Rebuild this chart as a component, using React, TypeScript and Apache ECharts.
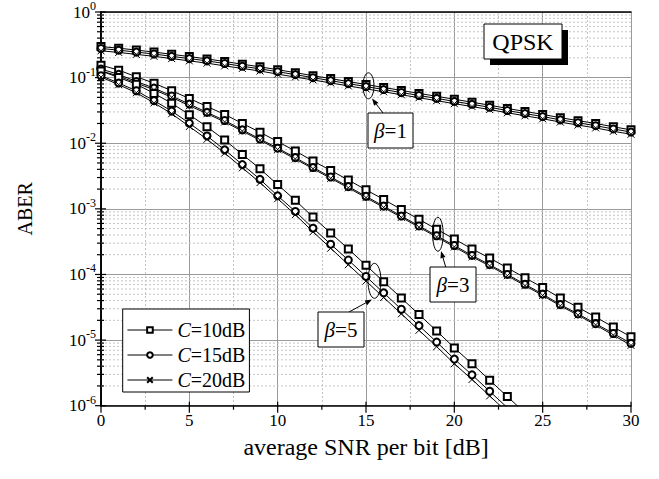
import React, { useEffect, useRef } from 'react';
import * as echarts from 'echarts';

const FONT = '"Liberation Serif", "Times New Roman", serif';

const snr = [0, 1, 2, 3, 4, 5, 6, 7, 8, 9, 10, 11, 12, 13, 14, 15, 16, 17, 18, 19, 20, 21, 22, 23, 24, 25, 26, 27, 28, 29, 30];

const legendNames = ['C=10dB', 'C=15dB', 'C=20dB'];

// beta = 1
const b1c10 = [0.297, 0.281, 0.263, 0.245, 0.227, 0.209, 0.193, 0.176, 0.160, 0.146, 0.132, 0.119, 0.107, 0.0966, 0.0871, 0.0785, 0.0708, 0.0638, 0.0575, 0.0519, 0.0468, 0.0422, 0.0380, 0.0339, 0.0305, 0.0275, 0.0245, 0.0221, 0.0200, 0.0178, 0.0160];
const b1c15 = [0.278, 0.262, 0.245, 0.229, 0.211, 0.195, 0.180, 0.164, 0.149, 0.136, 0.123, 0.111, 0.0998, 0.0899, 0.0810, 0.0730, 0.0658, 0.0593, 0.0534, 0.0482, 0.0434, 0.0392, 0.0353, 0.0315, 0.0283, 0.0255, 0.0227, 0.0205, 0.0185, 0.0165, 0.0148];
const b1c20 = [0.256, 0.242, 0.226, 0.211, 0.195, 0.180, 0.166, 0.151, 0.138, 0.126, 0.113, 0.102, 0.0921, 0.0830, 0.0748, 0.0674, 0.0608, 0.0548, 0.0494, 0.0445, 0.0401, 0.0362, 0.0326, 0.0291, 0.0262, 0.0236, 0.0210, 0.0189, 0.0171, 0.0152, 0.0137];

// beta = 3
const b3c10 = [0.155, 0.130, 0.103, 0.0824, 0.0631, 0.0481, 0.0363, 0.0275, 0.0200, 0.0147, 0.0106, 0.00759, 0.00537, 0.00385, 0.00275, 0.00195, 0.00139, 0.000977, 0.000692, 0.000490, 0.000347, 0.000245, 0.000178, 0.000126, 8.91e-5, 6.31e-5, 4.37e-5, 3.16e-5, 2.24e-5, 1.58e-5, 1.12e-5];
const b3c15 = [0.135, 0.112, 0.0875, 0.0693, 0.0525, 0.0395, 0.0295, 0.0222, 0.0160, 0.0116, 0.00841, 0.00603, 0.00426, 0.00306, 0.00218, 0.00155, 0.00110, 0.000776, 0.000549, 0.000389, 0.000276, 0.000195, 0.000141, 0.000100, 7.08e-5, 5.01e-5, 3.47e-5, 2.51e-5, 1.78e-5, 1.26e-5, 8.9e-6];
const b3c20 = [0.126, 0.106, 0.0826, 0.0654, 0.0501, 0.0373, 0.0282, 0.0211, 0.0153, 0.0111, 0.00804, 0.00576, 0.00408, 0.00292, 0.00209, 0.00148, 0.00105, 0.000742, 0.000525, 0.000372, 0.000263, 0.000186, 0.000135, 9.56e-5, 6.76e-5, 4.79e-5, 3.32e-5, 2.40e-5, 1.70e-5, 1.19e-5, 8.3e-6];

// beta = 5
const b5c10 = [0.126, 0.1005, 0.0794, 0.0575, 0.0407, 0.0272, 0.0178, 0.0112, 0.00676, 0.00407, 0.00234, 0.00135, 0.000750, 0.000427, 0.000245, 0.000138, 7.76e-5, 4.37e-5, 2.45e-5, 1.38e-5, 7.59e-6, 4.37e-6, 2.45e-6, 1.38e-6, 7.76e-7];
const b5c15 = [0.107, 0.0826, 0.0630, 0.0446, 0.0309, 0.0202, 0.0129, 0.00793, 0.00473, 0.00282, 0.00158, 0.000913, 0.000507, 0.000289, 0.000166, 9.33e-5, 5.25e-5, 2.95e-5, 1.66e-5, 9.33e-6, 5.13e-6, 2.95e-6, 1.66e-6, 9.33e-7, 5.25e-7];
const b5c20 = [0.102, 0.0780, 0.0588, 0.0412, 0.0282, 0.0180, 0.0115, 0.00707, 0.00422, 0.00251, 0.00143, 0.000814, 0.000447, 0.000251, 0.000141, 7.94e-5, 4.46e-5, 2.51e-5, 1.41e-5, 7.94e-6, 4.36e-6, 2.51e-6, 1.41e-6, 7.94e-7, 4.46e-7];

// axis tick positions
const xMajorTicks = [0, 5, 10, 15, 20, 25, 30];
const xMinorTicks = [2.5, 7.5, 12.5, 17.5, 22.5, 27.5];
const yDecades = [-6, -5, -4, -3, -2, -1, 0];
const yMantissas = [2, 3, 4, 5, 6, 7, 8, 9];

const CROSS = 'path://M0,0L10,10M10,0L0,10';

export default function App() {
  const ref = useRef<HTMLDivElement>(null);

  useEffect(() => {
    if (!ref.current) return;
    const chart = echarts.init(ref.current, null, { renderer: 'svg' });

    const pair = (ys: number[]) => ys.map((y, i) => [snr[i], y]);
    const mk = (name: string, ys: number[], symbol: string, size: number) => ({
      type: 'line',
      name,
      data: pair(ys),
      symbol,
      symbolSize: size,
      showAllSymbol: true,
      clip: true,
      silent: true,
      z: 3,
      lineStyle: { color: '#000', width: 1 },
      itemStyle: { color: '#000', borderColor: '#000', borderWidth: 1 },
    });

    const yTickData: number[][] = [];
    yDecades.forEach((e) => {
      yTickData.push([0, Math.pow(10, e), 1]);
      if (e < 0) yMantissas.forEach((m) => yTickData.push([0, m * Math.pow(10, e), 0]));
    });
    const xTickData: number[][] = [];
    xMajorTicks.forEach((x) => xTickData.push([x, 1e-6, 1]));
    xMinorTicks.forEach((x) => xTickData.push([x, 1e-6, 0]));

    const labelRich = {
      b: { fontFamily: FONT, fontSize: 17, color: '#000' },
      s: { fontFamily: FONT, fontSize: 12, color: '#000', padding: [0, 0, 12, 0] },
    };

    const option: any = {
      animation: false,
      backgroundColor: '#fff',
      grid: { left: 101, right: 28, top: 11, bottom: 73.3, containLabel: false },
      legend: {
        data: legendNames,
        orient: 'vertical',
        left: 122.7,
        top: 309,
        padding: [11, 4, 2, 4],
        itemWidth: 45,
        itemHeight: 7,
        itemGap: 5,
        backgroundColor: '#fff',
        borderColor: '#000',
        borderWidth: 1,
        selectedMode: false,
        lineStyle: { color: '#555', width: 1.5 },
        formatter: (n: string) => `{i|C}{n|${n.slice(1)}}`,
        textStyle: {
          rich: {
            i: { fontFamily: FONT, fontSize: 20, fontStyle: 'italic', color: '#000', lineHeight: 20 },
            n: { fontFamily: FONT, fontSize: 20, color: '#000', lineHeight: 20 },
          },
        },
      },
      xAxis: [
        {
          type: 'value',
          min: 0,
          max: 30,
          interval: 5,
          position: 'bottom',
          name: 'average SNR per bit [dB]',
          nameLocation: 'middle',
          nameGap: 29,
          nameTextStyle: { fontFamily: FONT, fontSize: 24, color: '#000' },
          axisLine: { show: true, lineStyle: { color: '#000', width: 1.6 } },
          axisTick: { show: false },
          minorTick: { show: false, splitNumber: 2 },
          axisLabel: { fontFamily: FONT, fontSize: 17, color: '#000', margin: 6 },
          splitLine: { show: true, lineStyle: { color: '#9a9a9a', width: 1 } },
          minorSplitLine: { show: true, lineStyle: { color: '#c4c4c4', width: 1, type: [2, 2] } },
        },
        {
          type: 'value',
          min: 0,
          max: 30,
          interval: 5,
          position: 'top',
          axisLine: { show: true, lineStyle: { color: '#000', width: 1.6 } },
          axisTick: { show: false },
          axisLabel: { show: false },
          splitLine: { show: false },
        },
      ],
      yAxis: [
        {
          type: 'log',
          logBase: 10,
          min: 1e-6,
          max: 1,
          interval: 1,
          position: 'left',
          name: 'ABER',
          nameLocation: 'middle',
          nameGap: 66,
          nameTextStyle: { fontFamily: FONT, fontSize: 20, color: '#000' },
          axisLine: { show: true, lineStyle: { color: '#000', width: 1.6 } },
          axisTick: { show: false },
          axisLabel: {
            margin: 5,
            formatter: (v: number) => `{b|10}{s|${Math.round(Math.log10(v))}}`,
            rich: labelRich,
          },
          splitLine: { show: true, lineStyle: { color: '#9a9a9a', width: 1 } },
        },
        {
          type: 'log',
          logBase: 10,
          min: 1e-6,
          max: 1,
          interval: 1,
          position: 'right',
          axisLine: { show: true, lineStyle: { color: '#000', width: 1.6 } },
          axisTick: { show: false },
          axisLabel: { show: false },
          splitLine: { show: false },
        },
      ],
      series: [
        {
          type: 'custom',
          silent: true,
          z: 1,
          clip: false,
          data: yTickData,
          encode: { x: 0, y: 1 },
          renderItem: (params: any, api: any) => {
            const v = api.value(1);
            const major = api.value(2) === 1;
            const p = api.coord([0, v]);
            const q = api.coord([30, v]);
            const children: any[] = [];
            if (!major) {
              children.push({
                type: 'line',
                shape: { x1: p[0], y1: p[1], x2: q[0], y2: q[1] },
                style: { stroke: '#c4c4c4', lineWidth: 1, lineDash: [2, 2] },
              });
            }
            children.push({
              type: 'line',
              shape: { x1: p[0] - (major ? 6 : 4), y1: p[1], x2: p[0] + (major ? 5 : 3), y2: p[1] },
              style: { stroke: '#000', lineWidth: 1.2 },
            });
            return { type: 'group', children };
          },
        },
        {
          type: 'custom',
          silent: true,
          z: 1,
          clip: false,
          data: xTickData,
          encode: { x: 0, y: 1 },
          renderItem: (params: any, api: any) => {
            const x = api.value(0);
            const major = api.value(2) === 1;
            const p = api.coord([x, 1e-6]);
            return {
              type: 'line',
              shape: { x1: p[0], y1: p[1] - (major ? 4 : 0), x2: p[0], y2: p[1] + (major ? 7 : 4) },
              style: { stroke: '#000', lineWidth: 1.2 },
            };
          },
        },
        mk('C=10dB', b1c10, 'emptyRect', 7),
        mk('C=15dB', b1c15, 'emptyCircle', 7),
        mk('C=20dB', b1c20, CROSS, 7),
        mk('C=10dB', b3c10, 'emptyRect', 7),
        mk('C=15dB', b3c15, 'emptyCircle', 7),
        mk('C=20dB', b3c20, CROSS, 7),
        mk('C=10dB', b5c10, 'emptyRect', 7),
        mk('C=15dB', b5c15, 'emptyCircle', 7),
        mk('C=20dB', b5c20, CROSS, 7),
      ],
    };

    chart.setOption(option);

    const px = (x: number, y: number) => chart.convertToPixel({ gridIndex: 0 } as any, [x, y]) as number[];
    const arrow = (sx: number, sy: number, tx: number, ty: number) => {
      const dx = tx - sx;
      const dy = ty - sy;
      const L = Math.hypot(dx, dy);
      const ux = dx / L;
      const uy = dy / L;
      const hl = 7;
      const hw = 2.6;
      const bx = tx - ux * hl;
      const by = ty - uy * hl;
      return [
        { type: 'line', z: 10, shape: { x1: sx, y1: sy, x2: bx, y2: by }, style: { stroke: '#000', lineWidth: 1 } },
        {
          type: 'polygon',
          z: 10,
          shape: { points: [[tx, ty], [bx - uy * hw, by + ux * hw], [bx + uy * hw, by - ux * hw]] },
          style: { fill: '#000' },
        },
      ];
    };
    const ellipse = (x: number, y: number, rx: number, ry: number) => {
      const c = px(x, y);
      return { type: 'ellipse', z: 10, shape: { cx: c[0], cy: c[1], rx, ry }, style: { fill: 'none', stroke: '#000', lineWidth: 1 } };
    };
    const betaRich = {
      i: { fontFamily: FONT, fontSize: 21, fontStyle: 'italic', fill: '#000' },
      n: { fontFamily: FONT, fontSize: 21, fill: '#000' },
    };
    const box = (x: number, y: number, w: number, h: number, label: string) => [
      { type: 'rect', z: 10, shape: { x, y, width: w, height: h }, style: { fill: '#fff', stroke: '#000', lineWidth: 1 } },
      {
        type: 'text',
        z: 11,
        x: x + w / 2,
        y: y + h / 2,
        style: { text: `{i|β}{n|=${label}}`, rich: betaRich, align: 'center', verticalAlign: 'middle' },
      },
    ];

    const graphic: any[] = [
      // QPSK
      { type: 'rect', z: 10, shape: { x: 490, y: 30, width: 78, height: 35 }, style: { fill: '#000' } },
      { type: 'rect', z: 10, shape: { x: 484, y: 24, width: 78, height: 35 }, style: { fill: '#fff', stroke: '#000', lineWidth: 1 } },
      {
        type: 'text',
        z: 11,
        x: 523,
        y: 42,
        style: { text: 'QPSK', fontFamily: FONT, fontSize: 24, fill: '#000', align: 'center', verticalAlign: 'middle' },
      },
      // beta = 1
      ellipse(15.14, 0.075, 5.5, 13),
      ...arrow(383, 113, 372, 98.5),
      ...box(368, 113, 45, 35, '1'),
      // beta = 3
      ellipse(19.07, 4.1e-4, 5.3, 17),
      ...arrow(445.7, 267, 441, 251),
      ...box(430, 267, 46, 35, '3'),
      // beta = 5
      ellipse(15.48, 8e-5, 6.5, 17.5),
      ...arrow(349, 312, 372, 299.5),
      ...box(318, 312, 46, 35, '5'),
    ];
    chart.setOption({ graphic });

    return () => chart.dispose();
  }, []);

  return (
    <div
      ref={ref}
      style={{ position: 'fixed', left: 0, top: 0, width: 659, height: 479, background: '#fff' }}
    />
  );
}
